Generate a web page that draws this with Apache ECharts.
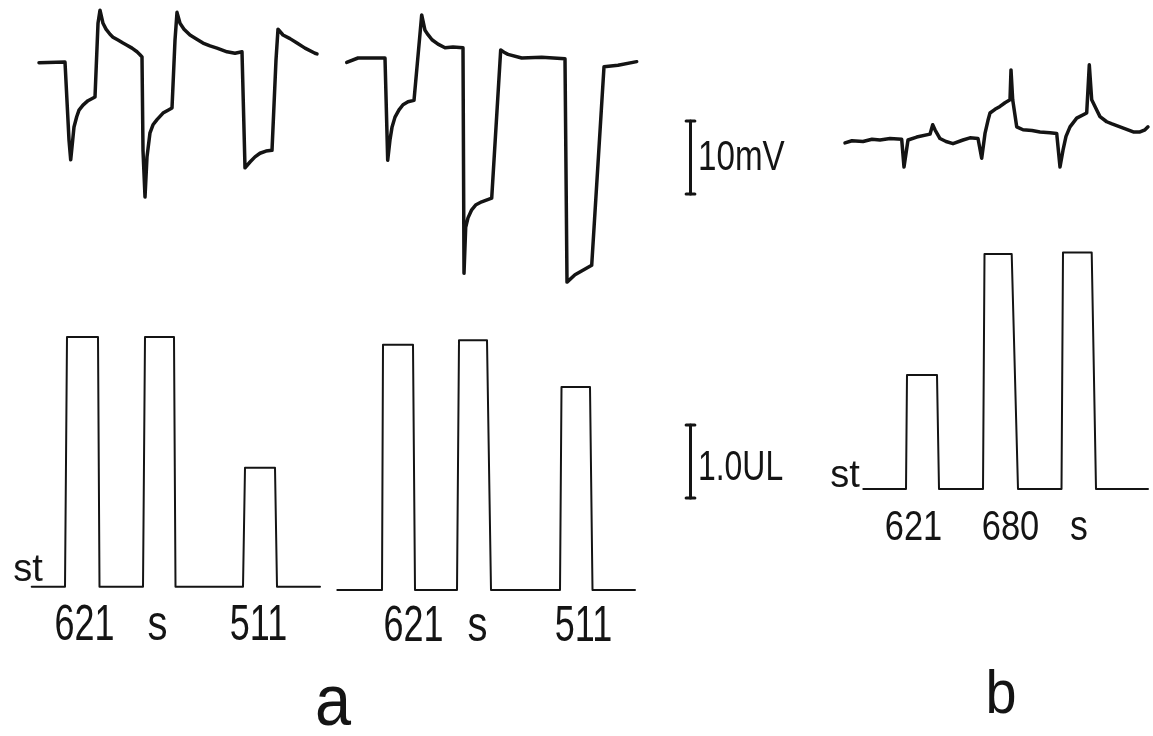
<!DOCTYPE html>
<html>
<head>
<meta charset="utf-8">
<script src="https://cdn.jsdelivr.net/npm/echarts@6/dist/echarts.min.js"></script>
<style>
html,body{margin:0;padding:0;background:#fff;}
#chart{width:1153px;height:736px;}
</style>
</head>
<body>
<div id="chart"></div>
<script>
// ---- data: time in s, membrane response in mV, stimulus in UL ----
const aLeftResponse = [[0.9,-0.1],[3.5,0.0],[3.9,-10.7],[4.07,-13.4],[4.27,-10.7],[4.4,-8.9],[4.67,-7.5],[4.9,-6.6],[5.3,-5.9],[5.8,-5.3],[6.5,-4.8],[6.8,5.3],[7.0,7.1],[7.3,5.3],[7.6,4.5],[8.0,3.8],[8.3,3.4],[8.8,3.0],[9.3,2.6],[9.7,2.3],[10.2,1.9],[10.7,1.4],[11.0,1.0],[11.2,0.7],[11.3,-12.1],[11.5,-18.5],[11.7,-13.0],[12.0,-9.7],[12.3,-8.6],[12.7,-7.9],[13.3,-7.0],[13.8,-6.6],[14.2,-6.3],[14.5,3.0],[14.7,6.8],[15.0,5.3],[15.4,4.5],[16.0,3.7],[16.6,3.2],[17.3,2.6],[18.0,2.2],[18.7,1.9],[19.7,1.4],[20.5,1.2],[21.2,1.4],[21.5,-14.5],[22.0,-13.7],[22.5,-13.0],[23.0,-12.5],[23.6,-12.2],[24.2,-12.1],[24.6,0.3],[24.8,4.5],[25.3,3.7],[26.0,3.2],[26.7,2.6],[27.5,1.9],[28.5,1.2],[28.7,1.1]];
const aLeftStimulus = [[0.17,0],[3.5,0],[3.7,3.42],[6.8,3.42],[6.95,0],[11.3,0],[11.5,3.42],[14.4,3.42],[14.55,0],[21.3,0],[21.5,1.63],[24.5,1.63],[24.7,0],[29.0,0]];
const aRightResponse = [[1.17,-0.6],[2.3,0],[5.0,0],[5.27,-14.0],[5.5,-11.2],[5.7,-9.5],[6.0,-8.1],[6.4,-7.1],[6.8,-6.4],[7.3,-6.0],[7.9,-5.8],[8.67,5.9],[9.0,3.8],[9.3,3.2],[9.7,2.5],[10.3,1.9],[11.0,1.4],[11.8,1.5],[12.8,1.4],[12.9,-29.5],[13.07,-23.2],[13.3,-21.9],[13.67,-20.8],[14.1,-20.1],[14.67,-19.7],[15.67,-19.2],[16.57,1.1],[16.9,0.8],[17.3,0.5],[18.67,0],[20.67,0.1],[23.0,-0.1],[23.2,-30.7],[24.0,-29.7],[25.67,-28.4],[26.9,-1.2],[28.3,-1.0],[30.17,-0.5]];
const aRightStimulus = [[0.23,0],[4.7,0],[4.8,3.36],[7.8,3.36],[8.0,0],[12.2,0],[12.4,3.42],[15.2,3.42],[15.6,0],[22.5,0],[22.65,2.78],[25.5,2.78],[25.75,0],[30.0,0]];
const bResponse = [[0.5,-0.4],[1.2,-0.1],[2.3,-0.2],[3.2,0.1],[4.0,0],[5.0,0.2],[6.17,0.1],[6.4,-3.7],[6.8,0],[7.67,0.4],[9.0,0.8],[9.27,2.1],[9.5,1.4],[10.0,0.2],[10.6,-0.2],[11.3,-0.5],[12.3,0],[13.0,0.3],[13.8,0.2],[14.17,-2.5],[14.5,0.9],[14.8,2.7],[15.0,3.7],[15.5,4.2],[16.0,4.6],[16.5,5.1],[17.0,5.5],[17.1,9.6],[17.27,5.5],[17.67,1.8],[18.3,1.4],[19.2,1.3],[20.0,1.1],[21.0,1.0],[21.67,0.9],[22.0,-3.7],[22.3,-1.4],[22.6,0.5],[23.0,1.8],[23.67,3.0],[24.67,3.7],[24.93,10.3],[25.17,5.5],[25.67,4.1],[26.0,3.2],[26.67,2.5],[27.2,2.2],[28.0,1.8],[28.6,1.5],[29.33,1.1],[30.0,1.1],[30.5,1.4],[30.8,1.8]];
const bStimulus = [[2.33,0],[6.6,0],[6.7,1.56],[9.7,1.56],[9.9,0],[14.3,0],[14.45,3.22],[17.17,3.22],[17.8,0],[22.15,0],[22.3,3.24],[25.17,3.24],[25.6,0],[30.8,0]];
const scaleBarMv = [10];   // calibration: 10 mV
const scaleBarUl = [1.0];  // calibration: 1.0 UL
const aLabels = ['621', 's', '511'];
const bLabels = ['621', '680', 's'];
const panelLabels = ['a', 'b'];
const stimLabel = 'st';

const INK = '#141414';
const grids = [
  {left:30,  top:3.6,  width:292, height:204.4},
  {left:30,  top:294.7,width:292, height:328.5},
  {left:335, top:3.25, width:305, height:288.35},
  {left:335, top:298,  width:305, height:328.5},
  {left:840, top:52.4, width:312, height:131.4},
  {left:840, top:197,  width:312, height:328.5},
  {left:685, top:121,  width:11,  height:73},
  {left:685, top:425,  width:11,  height:73}
];
const xr = [[0,29.2],[0,29.2],[0,30.5],[0,30.5],[0,31.2],[0,31.2],[0,1],[0,1]];
const yr = [[-20,8],[-0.5,4],[-32,7.5],[-0.5,4],[-6,12],[-0.5,4],[0,scaleBarMv[0]],[0,scaleBarUl[0]]];
const xAxis = xr.map((r,i)=>({type:'value',gridIndex:i,min:r[0],max:r[1],show:false}));
const yAxis = yr.map((r,i)=>({type:'value',gridIndex:i,min:r[0],max:r[1],show:false}));

function trace(i, data, w){
  return {type:'line', xAxisIndex:i, yAxisIndex:i, data:data, showSymbol:false, symbol:'none',
    clip:false, silent:true, animation:false,
    lineStyle:{color:INK, width:w, join:'round', cap:'round'}};
}
function bar(i, top){
  return [
    trace(i, [[0.5,0],[0.5,top]], 3),
    trace(i, [[0.1,0],[0.9,0]], 3),
    trace(i, [[0.1,top],[0.9,top]], 3)
  ];
}
const series = [
  trace(0, aLeftResponse, 3.5),
  trace(1, aLeftStimulus, 2),
  trace(2, aRightResponse, 3.5),
  trace(3, aRightStimulus, 2),
  trace(4, bResponse, 3.5),
  trace(5, bStimulus, 2),
  ...bar(6, scaleBarMv[0]),
  ...bar(7, scaleBarUl[0])
];

const FONT = "'Liberation Sans', Arial, sans-serif";
function txt(s, x, y, size, sx, align){
  return {type:'text', x:x, y:y, scaleX:sx, silent:true,
    style:{text:s, fill:INK, fontSize:size, fontFamily:FONT, align:align||'center', verticalAlign:'middle'}};
}
const graphic = [
  txt(stimLabel, 28, 571, 38, 1.0),
  txt(stimLabel, 845, 477, 38, 1.0),
  txt(aLabels[0], 84.5, 626, 50, 0.72),
  txt(aLabels[1], 157.5, 626, 50, 0.8),
  txt(aLabels[2], 258.5, 626, 50, 0.72),
  txt(aLabels[0], 413.5, 627, 50, 0.72),
  txt(aLabels[1], 477.5, 627, 50, 0.8),
  txt(aLabels[2], 583.5, 627, 50, 0.72),
  txt(bLabels[0], 913.5, 528, 42, 0.82),
  txt(bLabels[1], 1010.5, 528, 42, 0.82),
  txt(bLabels[2], 1079, 528, 42, 0.85),
  txt(scaleBarMv[0] + 'mV', 698, 158, 42, 0.79, 'left'),
  txt(scaleBarUl[0].toFixed(1) + 'UL', 698, 468, 42, 0.76, 'left'),
  txt(panelLabels[0], 333, 705, 72, 0.9),
  txt(panelLabels[1], 1001, 696, 62, 0.9)
];

const chart = echarts.init(document.getElementById('chart'), null, {renderer:'canvas'});
chart.setOption({
  backgroundColor:'#ffffff',
  animation:false,
  grid:grids,
  xAxis:xAxis,
  yAxis:yAxis,
  series:series,
  graphic:graphic
});
</script>
</body>
</html>
